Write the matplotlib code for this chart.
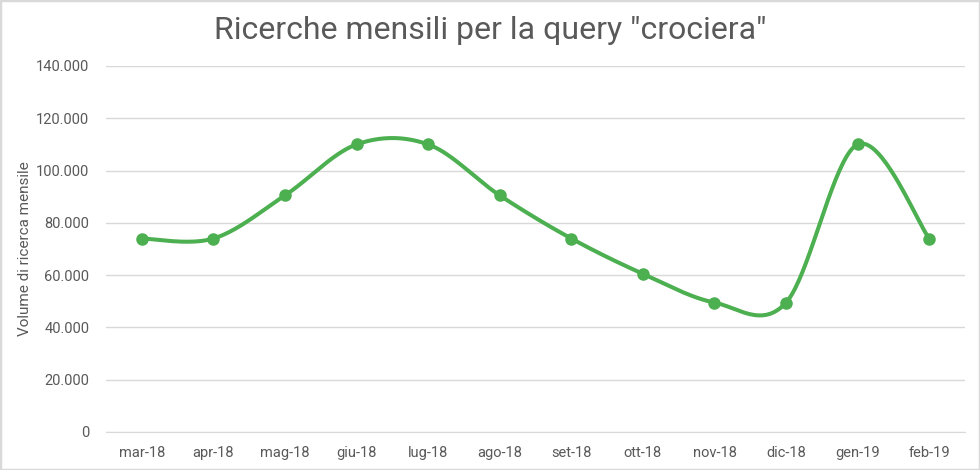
import numpy as np
import matplotlib.pyplot as plt
from matplotlib.ticker import FuncFormatter
from matplotlib.patches import Rectangle

plt.rcParams['font.family'] = ['Roboto', 'DejaVu Sans']

months = ["mar-18", "apr-18", "mag-18", "giu-18", "lug-18", "ago-18",
          "set-18", "ott-18", "nov-18", "dic-18", "gen-19", "feb-19"]
searches = [74000, 74000, 90500, 110000, 110000, 90500,
            74000, 60500, 49500, 49500, 110000, 74000]

GREEN = "#4CAF50"
TEXT = "#595959"


def smooth_curve(x, y, steps=40):
    # Excel-like smoothed line: cubic bezier through the points
    x = np.asarray(x, float)
    y = np.asarray(y, float)
    n = len(x)
    xs, ys = [], []
    for i in range(n - 1):
        p0 = np.array([x[max(i - 1, 0)], y[max(i - 1, 0)]])
        p1 = np.array([x[i], y[i]])
        p2 = np.array([x[i + 1], y[i + 1]])
        p3 = np.array([x[min(i + 2, n - 1)], y[min(i + 2, n - 1)]])
        c1 = p1 + (p2 - p0) / 6
        c2 = p2 - (p3 - p1) / 6
        t = np.linspace(0, 1, steps)[:, None]
        pts = ((1 - t) ** 3) * p1 + 3 * ((1 - t) ** 2) * t * c1 + 3 * (1 - t) * t ** 2 * c2 + t ** 3 * p2
        xs.extend(pts[:, 0])
        ys.extend(pts[:, 1])
    return np.array(xs), np.array(ys)


fig = plt.figure(figsize=(9.8, 4.7), dpi=100)
ax = fig.add_axes([0.1082, 0.0809, 0.8765, 0.7787])

xi = np.arange(len(months))
sx, sy = smooth_curve(xi, searches)
ax.plot(sx, sy, color=GREEN, lw=2.9, solid_capstyle='round', zorder=3)
ax.plot(xi, searches, 'o', color=GREEN, ms=8, zorder=4)

ax.set_xlim(-0.5, len(months) - 0.5)
ax.set_ylim(0, 140000)
ax.set_yticks(np.arange(0, 140001, 20000))
ax.yaxis.set_major_formatter(FuncFormatter(lambda v, p: f"{int(v):,}".replace(",", ".")))
ax.set_xticks(xi)
ax.set_xticklabels(months)

ax.grid(axis='y', color='#d9d9d9', lw=1)
ax.set_axisbelow(True)
for s in ['top', 'right', 'left']:
    ax.spines[s].set_visible(False)
ax.spines['bottom'].set_color('#d9d9d9')
ax.tick_params(length=0, colors=TEXT, labelsize=10.5, pad=10)
ax.tick_params(axis='y', pad=12)

ax.set_ylabel("Volume di ricerca mensile", color=TEXT, fontsize=11, labelpad=3)
fig.text(0.5, 0.935, 'Ricerche mensili per la query "crociera"', ha='center', va='center',
         color=TEXT, fontsize=23)

fig.patches.append(Rectangle((0, 0), 1, 1, transform=fig.transFigure, fill=False,
                             edgecolor='#d9d9d9', lw=2.5))

fig.savefig("out.png", dpi=100)
